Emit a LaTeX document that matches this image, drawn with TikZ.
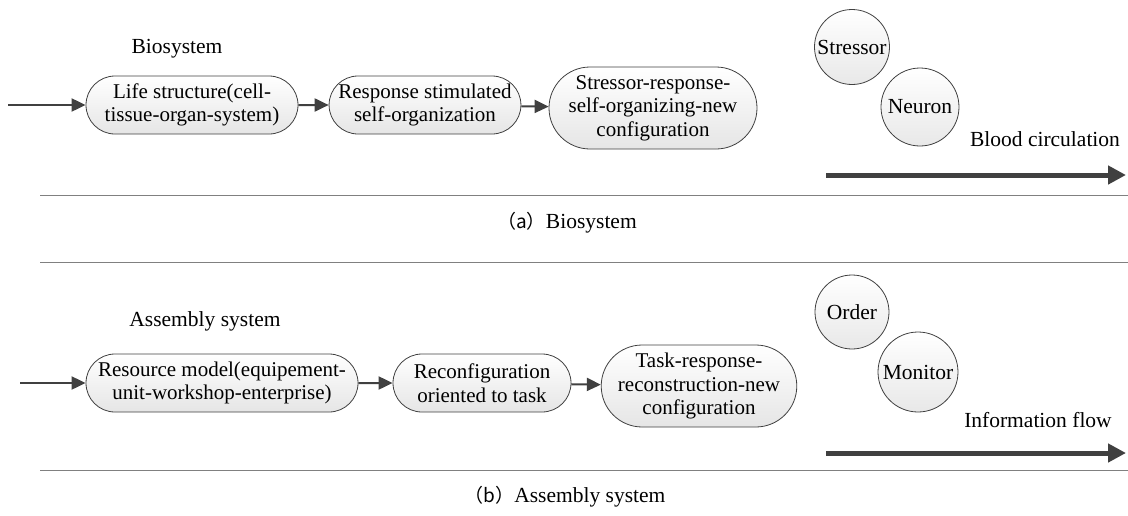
\documentclass[tikz,border=0pt]{standalone}
\usepackage{fontspec}
\setmainfont{Liberation Serif}
\newfontfamily\cjk{Noto Sans CJK SC}
\usetikzlibrary{shapes.misc,arrows.meta}
\definecolor{linegray}{HTML}{404040}
\definecolor{rulegray}{HTML}{808080}
\tikzset{
  procbox/.style={rounded rectangle, draw=linegray, line width=0.8pt, top color=white, bottom color=black!10,
    align=center, inner sep=0pt, font=\fontsize{21}{23.5}\selectfont},
  bubble/.style={circle, draw=linegray, line width=0.8pt, inner sep=0pt, top color=white, bottom color=black!9,
    font=\fontsize{21.5}{23.5}\selectfont},
  flow/.style={draw=linegray, line width=2pt, -{Triangle[length=14pt,width=13pt]}},
  bigflow/.style={draw=linegray, line width=5pt, -{Triangle[length=18pt,width=18pt]}},
  rule/.style={draw=rulegray, line width=1pt},
  lbl/.style={font=\fontsize{21.5}{24}\selectfont, inner sep=0pt},
}
\begin{document}
\begin{tikzpicture}[x=1pt,y=-1pt]
\useasboundingbox (0,0) rectangle (1128,515);
% ---- (a) Biosystem ----
\node[lbl] (biolbl) at (177,49) {Biosystem};
\coordinate (ain) at (8,105);
\node[procbox, minimum width=212, minimum height=58] (a1) at (192,105) {Life structure(cell-\\tissue-organ-system)};
\node[procbox, minimum width=164, minimum height=58] (a2) at (425,105) {Response stimulated\\self-organization};
\node[procbox, minimum width=208, minimum height=82] (a3) at (653,108) {Stressor-response-\\self-organizing-new\\configuration};
\draw[flow] (ain) -- (a1);
\draw[flow] (a1) -- (a2);
\draw[flow] (a2) -- (a3);
\node[bubble, minimum size=75] (stressor) at (852,47) {Stressor};
\node[bubble, minimum size=78] (neuron) at (920,107) {Neuron};
\node[lbl] (blood) at (1045,139) {Blood circulation};
\coordinate (bs) at (826,175);
\coordinate (be) at (1126,175);
\draw[bigflow] (bs) -- (be);
\coordinate (r1s) at (40,195); \coordinate (r1e) at (1128,195);
\draw[rule] (r1s) -- (r1e);
\node[lbl] (capa) at (567,223) {{\cjk\fontsize{19}{23}\selectfont （a）}Biosystem};
\coordinate (r2s) at (40,262); \coordinate (r2e) at (1128,262);
\draw[rule] (r2s) -- (r2e);
% ---- (b) Assembly system ----
\node[lbl] (asmlbl) at (205,321) {Assembly system};
\coordinate (bin) at (20,383);
\node[procbox, minimum width=272, minimum height=58] (b1) at (222,383) {Resource model(equipement-\\unit-workshop-enterprise)};
\node[procbox, minimum width=178, minimum height=58] (b2) at (482,383) {Reconfiguration\\oriented to task};
\node[procbox, minimum width=182, minimum height=82] (b3) at (699,386) {Task-response-\\reconstruction-new\\configuration};
\draw[flow] (bin) -- (b1);
\draw[flow] (b1) -- (b2);
\draw[flow] (b2) -- (b3);
\node[bubble, minimum size=74] (order) at (852,312) {Order};
\node[bubble, minimum size=80] (monitor) at (918,372) {Monitor};
\node[lbl] (info) at (1038,420) {Information flow};
\coordinate (is) at (826,453);
\coordinate (ie) at (1126,453);
\draw[bigflow] (is) -- (ie);
\coordinate (r3s) at (40,470); \coordinate (r3e) at (1128,470);
\draw[rule] (r3s) -- (r3e);
\node[lbl] (capb) at (565,497) {{\cjk\fontsize{19}{23}\selectfont （b）}Assembly system};
\end{tikzpicture}
\end{document}
